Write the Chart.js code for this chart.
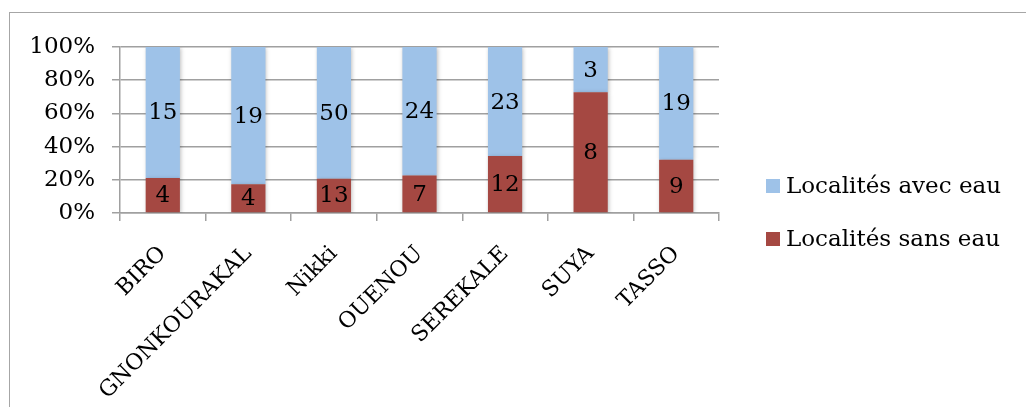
<!DOCTYPE html>
<html>
<head>
<meta charset="utf-8">
<script src="https://cdn.jsdelivr.net/npm/chart.js@4.4.1/dist/chart.umd.min.js"></script>
<style>
  html, body { margin: 0; padding: 0; background: #fff; overflow: hidden; }
  #wrap { position: relative; width: 1026px; height: 407px; }
  #frame { position: absolute; left: 9px; top: 12px; width: 1040px; height: 420px;
           border: 1.5px solid #a6a6a6; box-sizing: border-box; }
  canvas { position: absolute; left: 0; top: 0; }
</style>
</head>
<body>
<div id="wrap">
  <div id="frame"></div>
  <canvas id="chart" width="1026" height="407"></canvas>
</div>
<script>
const communes = ['BIRO', 'GNONKOURAKAL', 'Nikki', 'OUENOU', 'SEREKALE', 'SUYA', 'TASSO'];
const sansEau = [4, 4, 13, 7, 12, 8, 9];
const avecEau = [15, 19, 50, 24, 23, 3, 19];
const yTicks = [0, 20, 40, 60, 80, 100];

const FONT = "'DejaVu Serif', 'Liberation Serif', serif";
const RED = '#a54842';
const BLUE = '#9ec2e8';

// share of each count in its commune's total, in %
const totals = communes.map((_, i) => sansEau[i] + avecEau[i]);
const pct = arr => arr.map((v, i) => v / totals[i] * 100);

// soft drop shadow under the bars
const barShadow = {
    id: 'barShadow',
    beforeDatasetsDraw(chart) {
        const ctx = chart.ctx;
        ctx.save();
        ctx.shadowColor = 'rgba(0,0,0,0.25)';
        ctx.shadowBlur = 4;
        ctx.shadowOffsetX = 1;
        ctx.shadowOffsetY = 1;
    },
    afterDatasetsDraw(chart) {
        chart.ctx.restore();
    }
};

// raw counts written in the middle of every stacked segment
const segmentLabels = {
    id: 'segmentLabels',
    afterDatasetsDraw(chart) {
        const ctx = chart.ctx;
        ctx.save();
        ctx.font = '23px ' + FONT;
        ctx.fillStyle = '#000';
        ctx.textAlign = 'center';
        ctx.textBaseline = 'middle';
        chart.data.datasets.forEach((ds, di) => {
            chart.getDatasetMeta(di).data.forEach((bar, i) => {
                const mid = (bar.y + bar.base) / 2;
                ctx.fillText(String(ds.counts[i]), bar.x, mid + 1);
            });
        });
        ctx.restore();
    }
};

// legend on the right, "avec eau" listed first
const sideLegend = {
    id: 'sideLegend',
    afterDraw(chart) {
        const ctx = chart.ctx;
        const area = chart.chartArea;
        const x = area.right + 47;
        const items = chart.data.datasets.slice().reverse();
        ctx.save();
        ctx.font = '23px ' + FONT;
        ctx.textBaseline = 'middle';
        items.forEach((ds, k) => {
            const cy = 186 + k * 53;
            ctx.fillStyle = ds.backgroundColor;
            ctx.fillRect(x, cy - 7, 14, 14);
            ctx.fillStyle = '#000';
            ctx.fillText(ds.label, x + 20, cy + 1);
        });
        ctx.restore();
    }
};

new Chart(document.getElementById('chart'), {
    type: 'bar',
    data: {
        labels: communes,
        datasets: [
            {
                label: 'Localités sans eau',
                data: pct(sansEau),
                counts: sansEau,
                backgroundColor: RED,
                categoryPercentage: 1,
                barPercentage: 0.4
            },
            {
                label: 'Localités avec eau',
                data: pct(avecEau),
                counts: avecEau,
                backgroundColor: BLUE,
                categoryPercentage: 1,
                barPercentage: 0.4
            }
        ]
    },
    options: {
        responsive: false,
        animation: false,
        layout: { padding: { left: 0, right: 307, top: 47, bottom: 0 } },
        plugins: {
            legend: { display: false },
            tooltip: { enabled: false }
        },
        scales: {
            x: {
                stacked: true,
                afterFit: s => { s.height = 194; },
                grid: {
                    drawOnChartArea: false,
                    drawTicks: true,
                    tickLength: 8,
                    color: '#a0a0a0',
                    lineWidth: 1.5
                },
                border: { color: '#a0a0a0', width: 1.5 },
                ticks: {
                    color: '#000',
                    font: { family: FONT, size: 22 },
                    minRotation: 45,
                    maxRotation: 45,
                    padding: 20
                }
            },
            y: {
                stacked: true,
                min: 0,
                max: 100,
                afterFit: s => { s.width = 120; },
                afterBuildTicks: s => { s.ticks = yTicks.map(v => ({ value: v })); },
                grid: {
                    color: '#a0a0a0',
                    lineWidth: 1.5,
                    tickLength: 8
                },
                border: { color: '#a0a0a0', width: 1.5 },
                ticks: {
                    color: '#000',
                    font: { family: FONT, size: 23 },
                    padding: 17,
                    callback: v => v + '%'
                }
            }
        }
    },
    plugins: [barShadow, segmentLabels, sideLegend]
});
</script>
</body>
</html>
